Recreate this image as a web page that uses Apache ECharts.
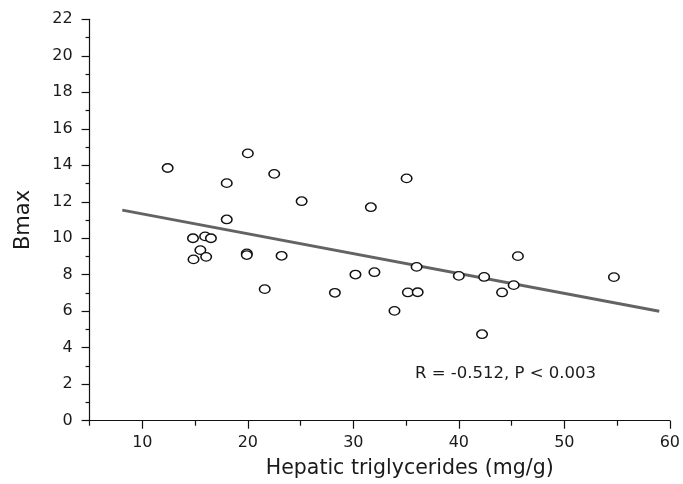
<!DOCTYPE html>
<html>
<head>
<meta charset="utf-8">
<script src="https://cdn.jsdelivr.net/npm/echarts@6/dist/echarts.min.js"></script>
<style>html,body{margin:0;padding:0;background:#fff;}#c{width:683px;height:484px;}</style>
</head>
<body>
<div id="c"></div>
<script>
// Data
const triglycerides = [12.4, 20.0, 22.5, 18.0, 25.1, 18.0, 14.8, 15.95, 16.5, 15.5, 14.85, 16.05, 19.9, 19.9, 23.2, 21.6,
  35.05, 31.66, 30.2, 32.0, 28.25, 36.0, 35.17, 36.1, 33.9, 40.0, 42.4, 44.1, 45.2, 45.6, 42.2, 54.7];
const bmax = [13.85, 14.65, 13.53, 13.02, 12.03, 11.03, 10.0, 10.1, 10.0, 9.35, 8.84, 8.98, 9.17, 9.08, 9.04, 7.21,
  13.28, 11.7, 8.01, 8.14, 7.01, 8.43, 7.03, 7.04, 6.02, 7.94, 7.88, 7.03, 7.43, 9.02, 4.74, 7.87];
const fitX = [8.1, 59.0];
const fitY = [11.54, 6.0];
const xMajorTicks = [10, 20, 30, 40, 50, 60];
const xMinorTicks = [5, 15, 25, 35, 45, 55];
const annotation = 'R = -0.512, P < 0.003';
const xTitle = 'Hepatic triglycerides (mg/g)';
const yTitle = 'Bmax';

const points = triglycerides.map((x, i) => [x, bmax[i]]);
const fit = fitX.map((x, i) => [x, fitY[i]]);
const font = 'DejaVu Sans, Liberation Sans, Arial, sans-serif';
const txt = '#1a1a1a';

const chart = echarts.init(document.getElementById('c'), null, {renderer: 'canvas'});
chart.setOption({
  animation: false,
  backgroundColor: '#fff',
  grid: {left: 89.6, right: 9, top: 19.3, bottom: 63.3, containLabel: false},
  xAxis: [{
    type: 'value', min: 5, max: 60,
    name: xTitle, nameLocation: 'middle', nameGap: 37,
    nameTextStyle: {fontFamily: font, fontSize: 20.5, color: txt, padding: [0, 0, 0, 60]},
    axisLine: {show: true, onZero: false, lineStyle: {color: '#111', width: 1.2}},
    axisTick: {show: true, customValues: xMajorTicks, length: 8, lineStyle: {color: '#111', width: 1.2}},
    axisLabel: {customValues: xMajorTicks, margin: 14, fontFamily: font, fontSize: 16, color: txt},
    splitLine: {show: false}
  }, {
    type: 'value', min: 5, max: 60, position: 'bottom',
    axisLine: {show: false},
    axisTick: {show: true, customValues: xMinorTicks, length: 5, lineStyle: {color: '#111', width: 1.2}},
    axisLabel: {show: false},
    splitLine: {show: false}
  }],
  yAxis: {
    type: 'value', min: 0, max: 22, interval: 2,
    name: yTitle, nameLocation: 'middle', nameGap: 56,
    nameTextStyle: {fontFamily: font, fontSize: 21, color: txt},
    axisLine: {show: true, onZero: false, lineStyle: {color: '#111', width: 1.2}},
    axisTick: {show: true, length: 8, lineStyle: {color: '#111', width: 1.2}},
    minorTick: {show: true, splitNumber: 2, length: 4, lineStyle: {color: '#111', width: 1.2}},
    axisLabel: {margin: 17, fontFamily: font, fontSize: 16, color: txt},
    splitLine: {show: false}
  },
  series: [{
    type: 'line', data: fit, xAxisIndex: 0,
    showSymbol: false, symbol: 'none',
    lineStyle: {color: '#636363', width: 3}, z: 1
  }, {
    type: 'scatter', data: points, xAxisIndex: 0,
    symbol: 'circle', symbolSize: [10.5, 8.5],
    itemStyle: {color: '#fff', borderColor: '#111', borderWidth: 1.4, opacity: 1}, z: 3
  }],
  graphic: [{
    type: 'text', left: 415, top: 365,
    style: {text: annotation, fontFamily: font, fontSize: 16.5, fill: txt}
  }]
});
</script>
</body>
</html>
